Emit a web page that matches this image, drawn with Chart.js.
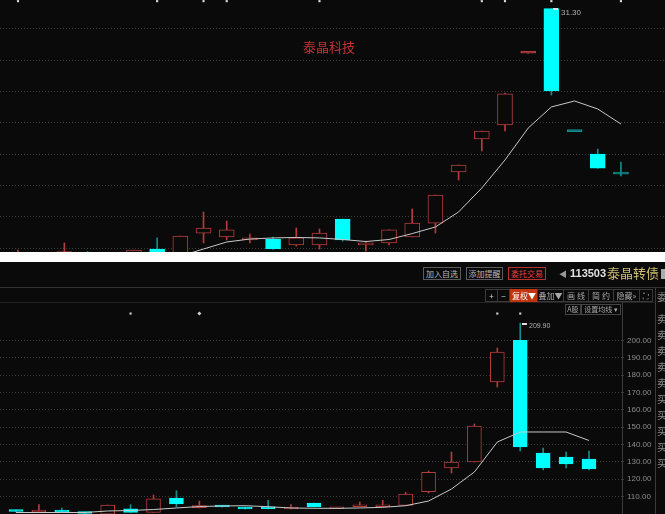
<!DOCTYPE html>
<html><head><meta charset="utf-8">
<script src="https://cdn.jsdelivr.net/npm/chart.js@4.4.1/dist/chart.umd.min.js"></script>
<style>
html,body{margin:0;padding:0;background:#fff;width:665px;height:514px;overflow:hidden;font-family:"Noto Sans CJK SC","Noto Sans",sans-serif;}
#top{position:absolute;left:0;top:0;width:665px;height:252px;background:#0a0a0a;}
#bot{position:absolute;left:0;top:262px;width:665px;height:252px;background:#0a0a0a;overflow:hidden;}
canvas{position:absolute;}
.t{position:absolute;white-space:nowrap;line-height:1;}
.btn{position:absolute;border:1px solid #5c5c5c;color:#b8b8b8;font-size:8px;line-height:11px;height:11px;text-align:center;white-space:nowrap;overflow:hidden;}
.tb{position:absolute;border:1px solid #3a3a3a;color:#a8a8a8;font-size:8px;line-height:11px;height:11px;text-align:center;white-space:nowrap;overflow:hidden;}
.rc{position:absolute;left:657px;color:#8a8a8a;font-size:10px;line-height:1;}
</style></head>
<body>
<div id="top"><canvas id="c1" width="665" height="252"></canvas>
  <div class="t" style="left:303px;top:40px;font-size:13px;color:#c23232;">泰晶科技</div>
  <div class="t" style="left:553px;top:8px;width:5px;height:2px;background:#ddd;"></div>
  <div class="t" style="left:561px;top:9px;font-size:8px;color:#b0b0b0;font-family:'Liberation Sans';">31.30</div>
</div>
<div id="bot">
  <div class="btn" style="left:423px;top:5px;width:36px;">加入自选</div>
  <div class="btn" style="left:466px;top:5px;width:35px;">添加提醒</div>
  <div class="btn" style="left:508px;top:5px;width:36px;border-color:#b83030;color:#e04040;">委托交易</div>
  <div class="t" style="left:559px;top:8px;font-size:8px;color:#999;">◀</div>
  <div class="t" style="left:570px;top:6px;font-size:11px;color:#e0e0e0;font-weight:bold;font-family:'Liberation Sans';">113503</div>
  <div class="t" style="left:607px;top:4px;font-size:13px;color:#cdbd6e;">泰晶转债</div>
  <div class="t" style="left:661px;top:7px;width:4px;height:10px;background:#aaa;"></div>
  <div class="t" style="left:0;top:25px;width:665px;height:1px;background:#333;"></div>
  <div class="tb" style="left:485px;top:27px;width:11px;color:#ddd;">+</div>
  <div class="tb" style="left:497px;top:27px;width:11px;color:#ddd;">−</div>
  <div class="tb" style="left:510px;top:27px;width:26px;background:#c0340e;color:#fff;border-color:#c0340e;">复权▼</div>
  <div class="tb" style="left:537px;top:27px;width:25px;">叠加▼</div>
  <div class="tb" style="left:563px;top:27px;width:24px;">画 线</div>
  <div class="tb" style="left:588px;top:27px;width:24px;">简 约</div>
  <div class="tb" style="left:613px;top:27px;width:25px;">隐藏»</div>
  <div class="tb" style="left:639px;top:27px;width:12px;">⛶</div>
  <div class="t" style="left:655px;top:25px;width:1px;height:227px;background:#3a3a3a;"></div>
  <div class="t" style="left:0;top:40px;width:655px;height:1px;background:#222;"></div>
  <div class="tb" style="left:565px;top:42px;width:14px;height:9px;line-height:9px;font-size:7px;border-color:#444;">A股</div>
  <div class="tb" style="left:581px;top:42px;width:38px;height:9px;line-height:9px;font-size:7px;border-color:#444;">设置均线 ▾</div>
  <div class="t" style="left:522px;top:61px;width:5px;height:2px;background:#ddd;"></div>
  <div class="t" style="left:529px;top:60px;font-size:7px;color:#b0b0b0;font-family:'Liberation Sans';">209.90</div>
  <div class="rc" style="top:30px;">委</div>
  <div class="rc" style="top:52px;">卖</div>
  <div class="rc" style="top:68px;">卖</div>
  <div class="rc" style="top:84px;">卖</div>
  <div class="rc" style="top:100px;">卖</div>
  <div class="rc" style="top:116px;">卖</div>
  <div class="rc" style="top:132px;">买</div>
  <div class="rc" style="top:148px;">买</div>
  <div class="rc" style="top:164px;">买</div>
  <div class="rc" style="top:180px;">买</div>
  <div class="rc" style="top:196px;">买</div>
  <canvas id="c2" width="655" height="212" style="left:0;top:40px;"></canvas>
</div>
<script>
// ---- top panel: 泰晶科技 (stock) ----
const topOpen  = [15.11,15.40,15.49,15.62,15.30,15.37,15.94,15.11,16.96,16.71,16.52,16.58,16.20,16.20,17.86,16.20,16.33,16.71,17.60,20.86,22.97,23.87,28.45,31.30,23.44,22.01,20.73];
const topClose = [15.49,15.20,15.78,15.43,15.50,15.88,15.49,16.77,17.28,17.16,16.65,15.94,16.65,16.96,16.52,16.33,17.16,17.60,19.39,21.31,23.48,25.86,28.45,26.04,23.44,21.10,20.73];
const topHigh  = [15.88,15.60,16.33,15.78,15.60,15.88,16.65,16.77,18.31,17.73,16.90,16.71,17.28,17.22,17.86,16.45,17.16,18.50,19.39,21.31,23.48,25.91,28.45,31.30,23.44,22.33,21.50];
const topLow   = [14.98,15.00,15.37,15.30,15.20,15.20,15.40,15.00,16.33,16.52,16.33,15.91,16.13,15.94,16.45,15.81,16.20,16.71,16.96,20.35,22.20,23.48,28.45,25.78,23.44,21.10,20.61];
const topMA    = [null,null,null,null,null,null,null,15.49,15.94,16.39,16.58,16.65,16.68,16.65,16.55,16.42,16.55,16.93,17.35,18.31,19.84,21.63,23.67,25.02,25.40,24.89,23.93];
const topMarks = [0,6,8,9,13,20,21,23,26];
const topGrid  = [16,18,20,22,24,26,28,30];

// ---- bottom panel: 泰晶转债 (bond) ----
const botOpen  = [102.22,101.07,102.22,101.07,99.80,102.97,100.90,109.14,103.55,104.82,103.96,103.78,102.80,106.26,102.97,104.12,104.12,104.93,112.77,126.42,129.88,175.97,200.00,135.07,132.76,131.61];
const botClose = [101.36,102.22,101.07,100.21,105.10,100.90,108.73,105.68,104.53,103.96,102.80,102.97,103.09,103.96,103.78,105.10,105.10,111.44,123.95,129.88,150.62,193.26,138.52,126.42,128.73,125.85];
const botHigh  = [102.22,105.28,103.38,101.07,105.10,105.28,110.87,113.34,107.41,104.82,103.96,107.81,105.28,106.26,103.78,106.84,107.81,112.42,124.70,135.64,151.78,195.56,209.90,137.95,135.64,136.22];
const botLow   = [101.07,101.07,100.78,99.92,99.60,100.78,100.80,103.96,103.38,103.96,102.80,102.80,102.80,103.96,102.97,104.12,103.96,104.93,112.02,123.54,129.88,173.09,136.22,125.27,126.42,125.27];
const botMA    = [100.78,100.78,100.78,100.78,101.65,101.94,102.51,103.38,104.24,104.53,104.70,104.12,103.38,103.20,103.20,103.38,103.78,104.70,107.41,114.32,124.12,141.40,147.17,147.17,147.17,142.27];
const botMarks = [5,8,21,22];
const botTicks = [110,120,130,140,150,160,170,180,190,200];

const BG='#0a0a0a', RED='#b53c3c', CYAN='#00ffff', TEAL='#138c8c';

function candleSets(o,c,h,l,bodyW){
  const up = o.map((v,i)=> c[i]>v || (c[i]===v && (i===0 || v>=c[i-1])));
  const doji = o.map((v,i)=> c[i]===v);
  const bodies = {type:'bar', order:2, grouped:false, barThickness:bodyW, minBarLength:2, borderWidth:1, borderSkipped:false,
    data:o.map((v,i)=>({x:i,y:[v,c[i]]})),
    backgroundColor:o.map((v,i)=> doji[i]?(up[i]?RED:TEAL):(up[i]?BG:CYAN)),
    borderColor:o.map((v,i)=> up[i]?RED:(doji[i]?TEAL:CYAN))};
  const wicks = {type:'bar', order:3, grouped:false, barThickness:1, borderWidth:0,
    data:l.map((v,i)=>({x:i,y:[v,h[i]]})),
    backgroundColor:o.map((v,i)=> up[i]?RED:TEAL)};
  return [bodies,wicks];
}

const common = {responsive:false, animation:false, devicePixelRatio:1,
  plugins:{legend:{display:false}, tooltip:{enabled:false}}, layout:{padding:0, autoPadding:false}};
const noPad = s=>{s.paddingTop=0; s.paddingBottom=0; s.paddingLeft=0; s.paddingRight=0;};

// top chart
new Chart(document.getElementById('c1'), {
  type:'bar',
  data:{datasets:[
    ...candleSets(topOpen,topClose,topHigh,topLow,15),
    {type:'line', order:1, data:topMA.map((v,i)=>({x:i,y:v})), borderColor:'#c8c8c8', borderWidth:1, pointRadius:0, pointHoverRadius:0, tension:0, spanGaps:false},
    {type:'scatter', order:0, data:topMarks.map(i=>({x:i,y:31.78})), pointStyle:'rect', pointRadius:1.5, pointHoverRadius:0, backgroundColor:'#dddddd', borderWidth:0}
  ]},
  options:{...common,
    scales:{
      x:{type:'linear', min:-0.776, max:27.9, display:false, offset:false, grid:{offset:false}},
      y:{type:'linear', min:15.751, max:31.853, position:'left',
         afterBuildTicks:s=>{s.ticks=topGrid.map(v=>({value:v}));},
         afterFit:s=>{s.width=0; noPad(s);},
         ticks:{display:false}, grid:{color:'#3a3a3a', drawTicks:false, tickLength:0},
         border:{display:false, dash:[1,2]}}
    }}
});

// bottom chart
new Chart(document.getElementById('c2'), {
  type:'bar',
  data:{datasets:[
    ...candleSets(botOpen,botClose,botHigh,botLow,14),
    {type:'line', order:1, data:botMA.map((v,i)=>({x:i,y:v})), borderColor:'#c8c8c8', borderWidth:1, pointRadius:0, pointHoverRadius:0, tension:0},
    {type:'scatter', order:0, data:botMarks.map(i=>({x:i,y:215.4})), pointStyle:botMarks.map(i=>i===8?'rectRot':'rect'), pointRadius:botMarks.map(i=>i===8?2:1.5), pointHoverRadius:0, backgroundColor:'#d0d0d0', borderWidth:0}
  ]},
  options:{...common,
    scales:{
      x:{type:'linear', min:-0.698, max:26.44, display:false, offset:false, grid:{offset:false}},
      y:{type:'linear', min:99.92, max:222.07, position:'right',
         afterBuildTicks:s=>{s.ticks=botTicks.map(v=>({value:v}));},
         afterFit:s=>{s.width=33; noPad(s);},
         ticks:{color:'#8c8c8c', padding:3, font:{size:8, family:'Liberation Sans'}, callback:v=>v.toFixed(2)},
         grid:{color:'#3a3a3a', drawTicks:true, tickLength:2},
         border:{display:true, color:'#3c3c3c', dash:[1,2]}}
    }}
});
</script>
</body></html>
